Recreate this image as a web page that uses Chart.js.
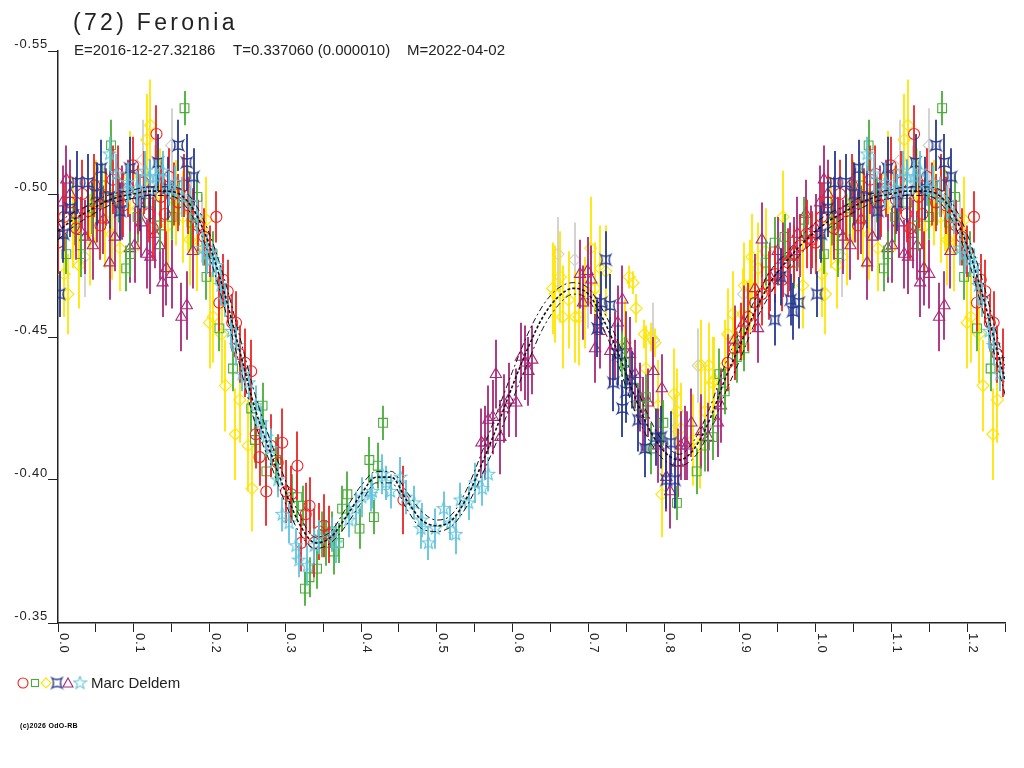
<!DOCTYPE html>
<html>
<head>
<meta charset="utf-8">
<script src="https://cdn.jsdelivr.net/npm/chart.js@4.4.1/dist/chart.umd.min.js"></script>
<style>
body { margin: 0; background: #fff; }
#wrap { position: relative; width: 1024px; height: 768px; font-family: "Liberation Sans", Arial, sans-serif; color: #222; }
#wrap .txt { position: absolute; white-space: pre; }
#title { left: 73px; top: 11px; font-size: 23px; line-height: 23px; letter-spacing: 3.3px; }
.sub { top: 42px; font-size: 15px; line-height: 15px; }
#observer { left: 91px; top: 675px; font-size: 15px; line-height: 15px; }
#copy { left: 20px; top: 722px; font-size: 7px; line-height: 7px; font-weight: bold; color: #000; letter-spacing: 0.3px; }
</style>
</head>
<body>
<div id="wrap">
  <canvas id="lc" width="1024" height="768"></canvas>
  <div class="txt" id="title">(72) Feronia</div>
  <div class="txt sub" style="left:74px">E=2016-12-27.32186</div>
  <div class="txt sub" style="left:233px">T=0.337060 (0.000010)</div>
  <div class="txt sub" style="left:407px">M=2022-04-02</div>
  <div class="txt" id="observer">Marc Deldem</div>
  <div class="txt" id="copy">(c)2026 OdO-RB</div>
</div>
<script>
// observations: [phase, reduced mag, error]
var redObs = [
  [0.000,-0.483,0.011],[0.008,-0.492,0.012],[0.016,-0.497,0.010],[0.024,-0.488,0.011],[0.032,-0.500,0.012],
  [0.040,-0.494,0.010],[0.048,-0.503,0.011],[0.056,-0.489,0.012],[0.064,-0.499,0.010],[0.072,-0.505,0.012],
  [0.079,-0.507,0.010],[0.086,-0.496,0.011],[0.093,-0.502,0.010],[0.099,-0.510,0.010],[0.106,-0.498,0.012],
  [0.113,-0.504,0.011],[0.120,-0.493,0.010],[0.125,-0.488,0.011],[0.130,-0.521,0.010],[0.136,-0.499,0.011],
  [0.141,-0.493,0.012],[0.147,-0.506,0.010],[0.153,-0.500,0.011],[0.159,-0.497,0.010],[0.166,-0.503,0.011],
  [0.172,-0.496,0.010],[0.178,-0.492,0.010],[0.185,-0.489,0.009],[0.193,-0.485,0.010],[0.200,-0.480,0.009],
  [0.209,-0.492,0.009],[0.213,-0.462,0.010],[0.218,-0.470,0.009],[0.224,-0.466,0.011],[0.230,-0.455,0.010],
  [0.235,-0.455,0.011],[0.240,-0.444,0.010],[0.247,-0.441,0.012],[0.255,-0.438,0.011],[0.261,-0.416,0.012],
  [0.266,-0.408,0.010],[0.275,-0.396,0.012],[0.281,-0.412,0.011],[0.290,-0.406,0.010],[0.296,-0.413,0.012],
  [0.301,-0.396,0.011],[0.308,-0.395,0.010],[0.316,-0.405,0.012],[0.321,-0.378,0.010],[0.327,-0.388,0.011],
  [0.332,-0.391,0.010],[0.338,-0.378,0.012],[0.345,-0.382,0.010],[0.351,-0.384,0.011],[0.358,-0.381,0.010],
  [0.456,-0.393,0.012],
  [0.884,-0.441,0.010],[0.893,-0.446,0.011],[0.902,-0.452,0.010],[0.911,-0.457,0.012],[0.920,-0.462,0.010],
  [0.929,-0.465,0.011],[0.938,-0.468,0.012],[0.947,-0.472,0.010],[0.956,-0.470,0.011],[0.964,-0.476,0.012],
  [0.972,-0.479,0.010],[0.980,-0.482,0.011],[0.988,-0.486,0.012],[0.995,-0.484,0.010]
];
var greenObs = [
  [0.011,-0.479,0.007],[0.022,-0.490,0.008],[0.030,-0.479,0.008],[0.045,-0.495,0.009],[0.058,-0.503,0.008],
  [0.070,-0.517,0.009],[0.081,-0.498,0.008],[0.090,-0.474,0.008],[0.095,-0.479,0.008],[0.105,-0.492,0.009],
  [0.121,-0.497,0.008],[0.135,-0.489,0.009],[0.150,-0.492,0.008],[0.160,-0.497,0.008],[0.167,-0.530,0.006],
  [0.176,-0.490,0.009],[0.184,-0.499,0.008],[0.196,-0.471,0.008],[0.204,-0.479,0.008],[0.213,-0.453,0.008],
  [0.231,-0.439,0.008],[0.255,-0.425,0.008],[0.260,-0.414,0.008],[0.270,-0.426,0.008],[0.275,-0.403,0.008],
  [0.288,-0.407,0.008],[0.309,-0.394,0.008],[0.316,-0.394,0.008],[0.323,-0.391,0.007],[0.326,-0.362,0.006],
  [0.332,-0.366,0.007],[0.342,-0.369,0.007],[0.349,-0.381,0.008],[0.354,-0.378,0.008],[0.362,-0.382,0.007],
  [0.364,-0.375,0.008],[0.371,-0.378,0.007],[0.375,-0.390,0.008],[0.382,-0.395,0.008],[0.398,-0.383,0.007],
  [0.411,-0.407,0.008],[0.417,-0.387,0.006],[0.422,-0.405,0.008],[0.429,-0.420,0.006],
  [0.744,-0.444,0.008],[0.748,-0.441,0.009],[0.766,-0.426,0.008],[0.776,-0.429,0.008],[0.783,-0.411,0.009],
  [0.799,-0.420,0.008],[0.817,-0.392,0.006],[0.843,-0.403,0.008],[0.854,-0.412,0.009],[0.864,-0.415,0.008],
  [0.873,-0.437,0.009],[0.880,-0.431,0.008],[0.896,-0.443,0.009],[0.906,-0.446,0.008],[0.920,-0.462,0.009],
  [0.934,-0.476,0.008],[0.946,-0.483,0.009],[0.959,-0.485,0.008],[0.972,-0.476,0.009],[0.985,-0.491,0.008]
];
var yellowObs = [
  [0.008,-0.472,0.015],[0.013,-0.465,0.014],[0.020,-0.490,0.016],[0.028,-0.475,0.015],[0.042,-0.484,0.016],
  [0.050,-0.497,0.015],[0.062,-0.491,0.017],[0.071,-0.486,0.016],[0.082,-0.481,0.015],[0.095,-0.506,0.016],
  [0.105,-0.495,0.015],[0.117,-0.519,0.016],[0.122,-0.524,0.016],[0.134,-0.500,0.016],[0.145,-0.489,0.017],
  [0.156,-0.497,0.015],[0.165,-0.492,0.016],[0.171,-0.495,0.015],[0.174,-0.484,0.016],[0.183,-0.481,0.015],
  [0.196,-0.491,0.015],[0.200,-0.455,0.016],[0.205,-0.457,0.016],[0.216,-0.451,0.017],[0.221,-0.433,0.016],
  [0.234,-0.416,0.016],[0.240,-0.428,0.015],[0.251,-0.412,0.016],[0.256,-0.397,0.015],
  [0.653,-0.467,0.016],[0.656,-0.465,0.017],[0.663,-0.471,0.016],[0.666,-0.457,0.018],[0.674,-0.463,0.017],
  [0.683,-0.457,0.016],[0.688,-0.457,0.017],[0.695,-0.462,0.016],[0.703,-0.481,0.018],[0.709,-0.467,0.016],
  [0.716,-0.474,0.015],[0.723,-0.473,0.016],[0.749,-0.448,0.015],[0.754,-0.471,0.004],[0.759,-0.469,0.004],
  [0.763,-0.460,0.005],[0.774,-0.451,0.005],[0.776,-0.439,0.015],[0.783,-0.450,0.005],[0.788,-0.448,0.005],
  [0.792,-0.426,0.016],[0.797,-0.395,0.015],[0.813,-0.430,0.016],[0.817,-0.424,0.015],[0.822,-0.418,0.016],
  [0.838,-0.414,0.016],[0.847,-0.412,0.015],[0.849,-0.440,0.016],[0.854,-0.424,0.016],[0.859,-0.440,0.015],
  [0.864,-0.434,0.016],[0.866,-0.435,0.015],[0.880,-0.440,0.016],[0.884,-0.451,0.016],[0.891,-0.458,0.015],
  [0.904,-0.458,0.016],[0.906,-0.468,0.015],[0.913,-0.468,0.016],[0.916,-0.478,0.015],[0.924,-0.474,0.016],
  [0.934,-0.480,0.015],[0.957,-0.492,0.016],[0.983,-0.468,0.015]
];
var blueObs = [
  [0.002,-0.465,0.008],[0.007,-0.486,0.010],[0.016,-0.495,0.010],[0.025,-0.504,0.011],[0.040,-0.504,0.010],
  [0.051,-0.500,0.011],[0.057,-0.509,0.010],[0.068,-0.499,0.011],[0.082,-0.494,0.010],[0.095,-0.509,0.011],
  [0.108,-0.497,0.010],[0.121,-0.501,0.011],[0.132,-0.511,0.010],[0.145,-0.502,0.011],[0.159,-0.517,0.009],
  [0.170,-0.511,0.010],[0.179,-0.506,0.010],
  [0.712,-0.453,0.010],[0.717,-0.462,0.011],[0.723,-0.477,0.010],[0.729,-0.461,0.011],[0.733,-0.434,0.010],
  [0.739,-0.444,0.011],[0.745,-0.425,0.010],[0.750,-0.431,0.011],[0.757,-0.435,0.010],[0.766,-0.421,0.011],
  [0.775,-0.411,0.010],[0.789,-0.415,0.010],[0.796,-0.415,0.011],[0.803,-0.400,0.010],[0.809,-0.413,0.011],
  [0.814,-0.400,0.010],
  [0.946,-0.456,0.009],[0.954,-0.471,0.010],[0.967,-0.463,0.009],[0.970,-0.459,0.010],[0.978,-0.462,0.009]
];
var magentaObs = [
  [0.000,-0.488,0.012],[0.006,-0.497,0.013],[0.011,-0.505,0.012],[0.016,-0.500,0.012],[0.024,-0.493,0.013],
  [0.030,-0.487,0.012],[0.036,-0.485,0.013],[0.046,-0.482,0.012],[0.052,-0.496,0.013],[0.060,-0.491,0.012],
  [0.068,-0.476,0.013],[0.075,-0.485,0.012],[0.085,-0.497,0.013],[0.095,-0.481,0.012],[0.101,-0.482,0.013],
  [0.110,-0.490,0.012],[0.117,-0.479,0.012],[0.122,-0.478,0.013],[0.128,-0.486,0.012],[0.134,-0.482,0.012],
  [0.138,-0.469,0.012],[0.143,-0.474,0.013],[0.150,-0.472,0.012],[0.163,-0.457,0.012],[0.170,-0.461,0.012],
  [0.178,-0.480,0.013],
  [0.559,-0.413,0.012],[0.564,-0.413,0.013],[0.568,-0.421,0.012],[0.574,-0.422,0.013],[0.578,-0.437,0.012],
  [0.584,-0.415,0.013],[0.589,-0.425,0.012],[0.595,-0.428,0.013],[0.605,-0.427,0.012],[0.611,-0.443,0.012],
  [0.617,-0.441,0.013],[0.621,-0.438,0.012],[0.626,-0.442,0.012],
  [0.689,-0.472,0.012],[0.693,-0.462,0.013],[0.699,-0.473,0.012],[0.704,-0.470,0.012],[0.709,-0.446,0.012],
  [0.716,-0.452,0.013],[0.729,-0.445,0.012],[0.735,-0.447,0.012],[0.739,-0.455,0.013],[0.745,-0.463,0.012],
  [0.750,-0.447,0.012],[0.755,-0.444,0.013],[0.762,-0.437,0.012],[0.768,-0.429,0.012],[0.772,-0.423,0.013],
  [0.779,-0.427,0.012],[0.786,-0.438,0.012],[0.792,-0.412,0.013],[0.797,-0.432,0.012],[0.803,-0.401,0.012],
  [0.808,-0.396,0.013],[0.818,-0.406,0.012],[0.822,-0.412,0.012],[0.827,-0.413,0.013],[0.830,-0.412,0.012],
  [0.836,-0.420,0.012],[0.849,-0.417,0.013],[0.858,-0.415,0.012],[0.871,-0.420,0.012],[0.875,-0.426,0.013],
  [0.893,-0.449,0.012],[0.905,-0.455,0.013],[0.920,-0.467,0.012],[0.924,-0.453,0.012],[0.929,-0.484,0.013],
  [0.940,-0.471,0.012],[0.950,-0.480,0.012],[0.957,-0.477,0.013],[0.966,-0.478,0.012],[0.972,-0.480,0.012],
  [0.976,-0.486,0.013],[0.987,-0.493,0.012],[0.994,-0.484,0.012]
];
var cyanObs = [
  [0.068,-0.514,0.006],[0.077,-0.507,0.007],[0.091,-0.501,0.006],[0.092,-0.504,0.007],[0.104,-0.502,0.006],
  [0.108,-0.501,0.006],[0.115,-0.508,0.007],[0.121,-0.506,0.006],[0.130,-0.506,0.006],[0.138,-0.508,0.007],
  [0.147,-0.502,0.006],[0.155,-0.504,0.006],[0.164,-0.499,0.007],[0.174,-0.497,0.006],[0.183,-0.492,0.006],
  [0.191,-0.481,0.006],[0.197,-0.479,0.007],[0.204,-0.477,0.006],[0.209,-0.475,0.006],[0.215,-0.468,0.007],
  [0.220,-0.463,0.006],[0.229,-0.452,0.006],[0.235,-0.447,0.007],[0.243,-0.437,0.006],[0.252,-0.434,0.006],
  [0.261,-0.426,0.007],[0.268,-0.420,0.006],[0.275,-0.415,0.006],[0.281,-0.411,0.007],[0.290,-0.400,0.006],
  [0.296,-0.388,0.006],[0.305,-0.385,0.007],[0.314,-0.377,0.006],[0.318,-0.372,0.006],[0.329,-0.370,0.007],
  [0.338,-0.377,0.006],[0.345,-0.380,0.006],[0.362,-0.381,0.006],[0.367,-0.378,0.007],[0.384,-0.386,0.006],
  [0.393,-0.390,0.006],[0.401,-0.394,0.007],[0.413,-0.395,0.006],[0.415,-0.396,0.006],[0.428,-0.402,0.007],
  [0.433,-0.399,0.006],[0.439,-0.396,0.006],[0.452,-0.401,0.007],[0.459,-0.394,0.006],[0.470,-0.392,0.006],
  [0.479,-0.383,0.007],[0.480,-0.386,0.006],[0.489,-0.378,0.006],[0.498,-0.383,0.007],[0.509,-0.390,0.006],
  [0.518,-0.385,0.006],[0.525,-0.381,0.007],[0.531,-0.393,0.006],[0.542,-0.392,0.006],[0.551,-0.399,0.007],
  [0.560,-0.397,0.006],[0.568,-0.402,0.006]
];
var grayObs = [
  [0.035,-0.478,0.014],[0.078,-0.498,0.013],[0.112,-0.512,0.014],[0.128,-0.505,0.012],[0.150,-0.517,0.013],
  [0.176,-0.494,0.014],[0.190,-0.488,0.012],[0.660,-0.479,0.013],[0.682,-0.477,0.013],[0.700,-0.465,0.012],
  [0.786,-0.449,0.013],[0.815,-0.418,0.012],[0.845,-0.440,0.013],[0.854,-0.419,0.012],[0.905,-0.465,0.013]
];

// Fourier fit and its spread, one value every 0.02 in phase
var fitPhase = [0.00,0.02,0.04,0.06,0.08,0.10,0.12,0.14,0.16,0.18,0.20,0.22,0.24,0.26,0.28,0.30,0.32,0.34,0.36,0.38,
  0.40,0.42,0.44,0.46,0.48,0.50,0.52,0.54,0.56,0.58,0.60,0.62,0.64,0.66,0.68,0.70,0.72,0.74,0.76,0.78,
  0.80,0.82,0.84,0.86,0.88,0.90,0.92,0.94,0.96,0.98];
var fitMag = [-0.487,-0.491,-0.494,-0.497,-0.499,-0.500,-0.501,-0.501,-0.500,-0.494,-0.482,-0.465,-0.445,-0.425,-0.410,-0.396,-0.384,-0.378,-0.380,-0.387,
  -0.395,-0.401,-0.401,-0.393,-0.386,-0.384,-0.386,-0.394,-0.406,-0.419,-0.433,-0.446,-0.457,-0.464,-0.467,-0.465,-0.456,-0.444,-0.430,-0.418,
  -0.410,-0.407,-0.411,-0.421,-0.435,-0.447,-0.459,-0.469,-0.476,-0.482];
var fitSpread = [0.003,0.0025,0.002,0.002,0.0015,0.0015,0.0015,0.0015,0.002,0.003,0.004,0.005,0.005,0.005,0.004,0.004,0.003,0.002,0.002,0.003,
  0.003,0.002,0.002,0.003,0.003,0.002,0.002,0.003,0.004,0.005,0.005,0.005,0.004,0.003,0.002,0.002,0.003,0.004,0.005,0.004,
  0.003,0.002,0.003,0.004,0.005,0.005,0.004,0.004,0.003,0.003];

var xTickLabels = ['0.0','0.1','0.2','0.3','0.4','0.5','0.6','0.7','0.8','0.9','1.0','1.1','1.2'];
var yTickLabels = ['-0.55','-0.50','-0.45','-0.40','-0.35'];

var colRed = '#EE2424', colGreen = '#48AE38', colYellow = '#FFE600', colBlue = '#26398F',
    colMagenta = '#A8287A', colCyan = '#62C4DC', colGray = '#CFCFCF';

// phase is shown up to 1.25, so the start of the cycle is repeated after 1.0
function wrapObs(list) {
  var out = [];
  list.forEach(function (o) {
    out.push({ x: o[0], y: o[1], e: o[2] });
    if (o[0] + 1 <= 1.25) out.push({ x: o[0] + 1, y: o[1], e: o[2] });
  });
  return out;
}
function wrapFit(offset) {
  var out = [];
  for (var i = 0; i < fitPhase.length; i++) {
    out.push({ x: fitPhase[i], y: fitMag[i] + offset * fitSpread[i] });
  }
  for (var i = 0; i < fitPhase.length; i++) {
    if (fitPhase[i] <= 0.26) out.push({ x: fitPhase[i] + 1, y: fitMag[i] + offset * fitSpread[i] });
  }
  return out;
}

function markCanvas(width, draw) {
  var cv = document.createElement('canvas');
  cv.width = 15; cv.height = 15;
  var g = cv.getContext('2d');
  g.translate(7.5, 7.5);
  g.lineWidth = width;
  g.beginPath();
  draw(g);
  g.stroke();
  return cv;
}
var blueMark = markCanvas(1.3, function (g) {
  g.strokeStyle = colBlue;
  g.moveTo(-5, -5);
  g.quadraticCurveTo(0, -2, 5, -5);
  g.quadraticCurveTo(2, 0, 5, 5);
  g.quadraticCurveTo(0, 2, -5, 5);
  g.quadraticCurveTo(-2, 0, -5, -5);
  g.closePath();
});
var cyanMark = markCanvas(1.1, function (g) {
  g.strokeStyle = colCyan;
  for (var k = 0; k < 10; k++) {
    var r = k % 2 ? 2.8 : 6.8;
    var a = -Math.PI / 2 + k * Math.PI / 5;
    if (k === 0) g.moveTo(r * Math.cos(a), r * Math.sin(a));
    else g.lineTo(r * Math.cos(a), r * Math.sin(a));
  }
  g.closePath();
});

function obsSet(list, color, style, radius, order) {
  return {
    data: wrapObs(list),
    errColor: color,
    borderColor: color,
    backgroundColor: 'rgba(0,0,0,0)',
    pointStyle: style,
    pointRadius: radius,
    pointBorderWidth: 1.1,
    order: order
  };
}
function fitSet(offset, dash, width) {
  return {
    data: wrapFit(offset),
    showLine: true,
    borderColor: '#111',
    borderWidth: width,
    borderDash: dash,
    pointRadius: 0,
    cubicInterpolationMode: 'monotone',
    order: 0
  };
}

// error bars under each dataset's markers
var errorBars = {
  id: 'errorBars',
  beforeDatasetDraw: function (chart, args) {
    var ds = chart.data.datasets[args.index];
    if (!ds.errColor) return;
    var ys = chart.scales.y, c = chart.ctx, a = chart.chartArea;
    c.save();
    c.beginPath();
    c.rect(a.left, a.top, a.right - a.left, a.bottom - a.top);
    c.clip();
    c.strokeStyle = ds.errColor;
    c.lineWidth = 1.8;
    c.beginPath();
    args.meta.data.forEach(function (pt, i) {
      var d = ds.data[i];
      var x = Math.round(pt.x);
      c.moveTo(x, ys.getPixelForValue(d.y - d.e));
      c.lineTo(x, ys.getPixelForValue(d.y + d.e));
    });
    c.stroke();
    c.restore();
  }
};

var axisText = {
  id: 'axisText',
  afterDraw: function (chart) {
    var c = chart.ctx, xs = chart.scales.x, ys = chart.scales.y;
    c.save();
    c.fillStyle = '#222';
    c.font = '13px "Liberation Sans", Arial, sans-serif';
    c.letterSpacing = '0.8px';
    c.textAlign = 'right';
    c.textBaseline = 'alphabetic';
    yTickLabels.forEach(function (t) {
      c.fillText(t, xs.left - 10, ys.getPixelForValue(parseFloat(t)) - 3);
    });
    c.textAlign = 'left';
    xTickLabels.forEach(function (t) {
      c.save();
      c.translate(xs.getPixelForValue(parseFloat(t)) + 2, ys.bottom + 10);
      c.rotate(Math.PI / 2);
      c.fillText(t, 0, 0);
      c.restore();
    });

    // legend symbols in front of the observer name
    var y = 683;
    c.lineWidth = 1.1;
    c.strokeStyle = colRed;
    c.beginPath(); c.arc(23, y, 5, 0, Math.PI * 2); c.stroke();
    c.strokeStyle = colGreen;
    c.strokeRect(31.5, y - 3.5, 7, 7);
    c.strokeStyle = colYellow;
    c.beginPath(); c.moveTo(46, y - 5); c.lineTo(51, y); c.lineTo(46, y + 5); c.lineTo(41, y); c.closePath(); c.stroke();
    c.drawImage(blueMark, 57 - 7.5, y - 7.5);
    c.strokeStyle = colMagenta;
    c.beginPath(); c.moveTo(68, y - 5); c.lineTo(73, y + 4); c.lineTo(63, y + 4); c.closePath(); c.stroke();
    c.drawImage(cyanMark, 80 - 7.5, y - 7.5);
    c.restore();
  }
};

var axisLine = { color: '#222', width: 1.5 };

new Chart(document.getElementById('lc'), {
  type: 'scatter',
  data: {
    datasets: [
      fitSet(0, [3, 2], 1.6),
      fitSet(-1, [6, 3, 2, 3], 1),
      fitSet(1, [6, 3, 2, 3], 1),
      obsSet(cyanObs, colCyan, cyanMark, 6, 1),
      obsSet(blueObs, colBlue, blueMark, 6, 2),
      obsSet(redObs, colRed, 'circle', 5.5, 3),
      obsSet(greenObs, colGreen, 'rect', 6.2, 4),
      obsSet(magentaObs, colMagenta, 'triangle', 6.5, 5),
      obsSet(yellowObs, colYellow, 'rectRot', 6, 6),
      obsSet(grayObs, colGray, 'rectRot', 6, 7)
    ]
  },
  options: {
    responsive: false,
    animation: false,
    devicePixelRatio: 1,
    layout: { padding: { top: 51, right: 19, left: 0, bottom: 0 } },
    plugins: {
      legend: { display: false },
      tooltip: { enabled: false }
    },
    scales: {
      x: {
        type: 'linear',
        min: 0,
        max: 1.25,
        ticks: { stepSize: 0.05, display: false },
        grid: { drawOnChartArea: false, tickLength: 9, color: '#222', lineWidth: 1 },
        border: axisLine,
        afterFit: function (s) { s.height = 145; }
      },
      y: {
        type: 'linear',
        reverse: true,
        min: -0.55,
        max: -0.35,
        ticks: { stepSize: 0.05, display: false },
        grid: { drawOnChartArea: false, tickLength: 10, color: '#222', lineWidth: 1 },
        border: axisLine,
        afterFit: function (s) { s.width = 58; }
      }
    }
  },
  plugins: [errorBars, axisText]
});
</script>
</body>
</html>
